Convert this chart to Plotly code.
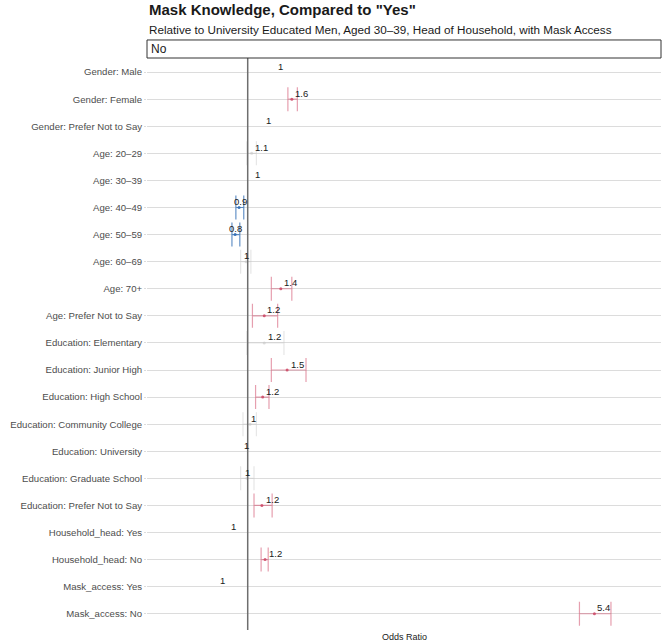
import plotly.graph_objects as go

# terms, top to bottom
terms = [
    "Gender: Male", "Gender: Female", "Gender: Prefer Not to Say",
    "Age: 20\u201329", "Age: 30\u201339", "Age: 40\u201349", "Age: 50\u201359",
    "Age: 60\u201369", "Age: 70+", "Age: Prefer Not to Say",
    "Education: Elementary", "Education: Junior High", "Education: High School",
    "Education: Community College", "Education: University",
    "Education: Graduate School", "Education: Prefer Not to Say",
    "Household_head: Yes", "Household_head: No",
    "Mask_access: Yes", "Mask_access: No",
]

# odds ratios and CIs (None = reference level, no bar drawn)
estimate = [None, 1.56, None, 1.05, None, 0.89, 0.84, 0.98, 1.42, 1.21,
            1.21, 1.50, 1.19, 1.03, None, 0.99, 1.18, None, 1.22, None, 5.40]
conf_low = [None, 1.51, None, 0.99, None, 0.85, 0.80, 0.91, 1.30, 1.06,
            0.99, 1.30, 1.10, 0.94, None, 0.91, 1.08, None, 1.17, None, 5.21]
conf_high = [None, 1.63, None, 1.11, None, 0.95, 0.90, 1.04, 1.56, 1.38,
             1.46, 1.74, 1.27, 1.11, None, 1.08, 1.31, None, 1.26, None, 5.61]

# value labels and where they sit
value_labels = ["1", "1.6", "1", "1.1", "1", "0.9", "0.8", "1", "1.4", "1.2",
                "1.2", "1.5", "1.2", "1", "1", "1", "1.2", "1", "1.2", "1", "5.4"]
label_x = [1.42, 1.685, 1.27, 1.17, 1.12, 0.91, 0.85, 0.99, 1.54, 1.33,
           1.34, 1.63, 1.31, 1.07, 0.98, 1.0, 1.31, 0.82, 1.35, 0.68, 5.52]

groups = {
    "pos": dict(color="rgba(210,80,110,0.55)", dot="rgba(205,70,100,0.85)"),
    "neg": dict(color="rgba(50,110,180,0.75)", dot="rgba(50,110,180,0.9)"),
    "ns": dict(color="rgba(200,200,200,0.45)", dot="rgba(200,200,200,0.6)"),
}

fig = go.Figure()

for g, sty in groups.items():
    xs, ys, ep, em = [], [], [], []
    for t, e, lo, hi in zip(terms, estimate, conf_low, conf_high):
        if e is None:
            continue
        kind = "pos" if lo > 1 else ("neg" if hi < 1 else "ns")
        if kind != g:
            continue
        xs.append(e)
        ys.append(t)
        ep.append(hi - e)
        em.append(e - lo)
    fig.add_trace(go.Scatter(
        x=xs, y=ys, mode="markers",
        marker=dict(size=3, color=sty["dot"]),
        error_x=dict(type="data", symmetric=False, array=ep, arrayminus=em,
                     color=sty["color"], thickness=1.2, width=12),
        showlegend=False, hoverinfo="skip",
    ))

for t, lab, lx in zip(terms, value_labels, label_x):
    fig.add_annotation(x=lx, y=t, text=lab, showarrow=False, yshift=6,
                       font=dict(size=9.5, color="#1a1a1a"))

# reference line at OR = 1
fig.add_vline(x=1, line=dict(color="#6e6e6e", width=1.5))

# facet strip
fig.add_shape(type="rect", xref="paper", yref="paper", x0=0, x1=1,
              y0=1.0, y1=1.0315, line=dict(color="#333333", width=1),
              fillcolor="white")
fig.add_annotation(xref="paper", yref="paper", x=0, y=1.0157, xanchor="left",
                   yanchor="middle", xshift=2, text="No", showarrow=False,
                   font=dict(size=12, color="#1a1a1a"))

fig.add_annotation(xref="paper", yref="paper", x=0, y=1.085, xanchor="left",
                   yanchor="middle", text="<b>Mask Knowledge, Compared to \"Yes\"</b>",
                   showarrow=False, font=dict(size=15, color="#1a1a1a"))
fig.add_annotation(xref="paper", yref="paper", x=0, y=1.049, xanchor="left",
                   yanchor="middle",
                   text="Relative to University Educated Men, Aged 30\u201339, Head of Household, with Mask Access",
                   showarrow=False, font=dict(size=11.7, color="#1a1a1a"))
fig.add_annotation(xref="paper", yref="paper", x=0.5, y=-0.013, xanchor="center",
                   yanchor="middle", text="Odds Ratio", showarrow=False,
                   font=dict(size=9, color="#1a1a1a"))

fig.update_xaxes(range=[-0.278, 6.245], showgrid=False, zeroline=False,
                 showticklabels=False, ticks="", showline=False)
fig.update_yaxes(type="category", categoryorder="array", categoryarray=terms,
                 range=[20.6, -0.52], showgrid=True, gridcolor="#dcdcdc",
                 gridwidth=1, ticks="outside", ticklen=2, tickcolor="#dcdcdc",
                 zeroline=False, showline=False,
                 tickfont=dict(size=9.6, color="#4d4d4d"))

fig.update_layout(
    width=664, height=644,
    margin=dict(l=147, r=3, t=58, b=14, autoexpand=False),
    paper_bgcolor="white", plot_bgcolor="white",
    font=dict(family="Liberation Sans, Arial, sans-serif"),
)

fig.write_html("out.html", config={"displayModeBar": False},
               post_script="document.body.style.margin='0';")
